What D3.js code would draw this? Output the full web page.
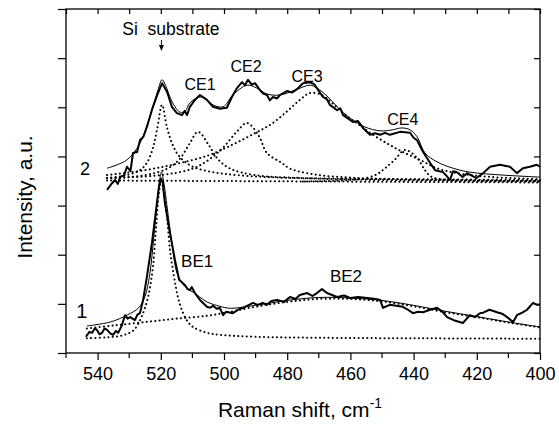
<!DOCTYPE html>
<html>
<head>
  <meta charset="utf-8">
  <title>Raman spectra</title>
  <script src="https://d3js.org/d3.v7.min.js"></script>
  <style>
    body { margin: 0; background: #fff; }
    text { font-family: "Liberation Sans", Arial, sans-serif; fill: #000; }
    .frame { fill: none; stroke: #000; stroke-width: 1.3px; }
    .expt { fill: none; stroke: #000; stroke-width: 2px; stroke-linejoin: round; }
    .fit { fill: none; stroke: #000; stroke-width: 1px; }
    .comp { fill: none; stroke: #000; stroke-width: 2px; stroke-dasharray: 0.1 4.2; stroke-linecap: round; }
  </style>
</head>
<body>
  <svg id="screen"></svg>

  <script>
    // ---- data: [Raman shift cm-1, intensity a.u.] ----

    // spectrum 2 (upper)
    const expt2 = [[537.0,3.32],[535.5,3.45],[534.5,3.52],[533.6,3.44],[532.9,3.58],[531.6,3.62],[530.7,3.79],
      [529.6,3.70],[528.8,4.07],[527.5,4.09],[526.6,4.33],[525.5,4.40],[524.4,4.60],[522.5,5.01],[520.9,5.29],
      [519.6,5.49],[518.0,5.31],[516.5,5.01],[514.9,4.88],[513.3,4.84],[512.4,4.93],[511.7,4.84],[510.8,5.01],
      [509.2,5.15],[507.6,5.25],[505.4,5.15],[503.5,5.01],[501.3,4.97],[499.1,4.99],[497.5,5.21],[495.9,5.39],
      [494.3,5.51],[493.4,5.45],[492.4,5.56],[491.2,5.46],[490.2,5.49],[488.6,5.35],[487.6,5.28],[486.4,5.25],
      [485.5,5.14],[484.5,5.21],[483.2,5.18],[482.3,5.25],[480.1,5.33],[478.4,5.30],[476.9,5.37],[475.0,5.49],
      [472.8,5.51],[471.5,5.47],[470.6,5.39],[468.7,5.21],[467.4,5.16],[466.5,5.05],[464.2,4.94],[463.2,4.98],
      [462.3,4.84],[459.2,4.70],[457.6,4.72],[456.0,4.58],[453.8,4.44],[452.2,4.47],[450.6,4.44],[449.0,4.48],
      [447.5,4.44],[444.3,4.50],[441.1,4.48],[440.0,4.38],[438.9,4.33],[437.0,4.09],[434.8,3.87],[433.2,3.72],
      [430.7,3.68],[429.5,3.60],[428.5,3.52],[427.5,3.70],[426.3,3.68],[424.5,3.58],[423.1,3.66],[420.1,3.56],
      [418.0,3.66],[415.8,3.79],[412.7,3.83],[409.5,3.79],[407.3,3.66],[405.4,3.76],[403.2,3.79],[401.0,3.83],
      [400.0,3.79]];

    const fit2 = [[537.0,3.76],[530.7,3.93],[526.6,4.27],[522.5,5.01],[520.9,5.35],[519.6,5.56],[518.4,5.43],
      [517.1,5.21],[515.5,5.01],[513.9,4.90],[512.3,4.92],[510.8,5.09],[507.6,5.21],[505.4,5.15],[503.5,5.05],
      [500.3,5.01],[497.2,5.25],[492.7,5.45],[489.6,5.39],[486.4,5.27],[482.3,5.25],[477.5,5.35],[472.8,5.45],
      [470.6,5.39],[467.4,5.23],[464.2,5.01],[460.1,4.78],[455.4,4.60],[450.6,4.52],[446.8,4.54],[443.7,4.58],
      [441.1,4.54],[438.9,4.40],[436.4,4.07],[432.6,3.89],[427.5,3.76],[422.2,3.68],[411.7,3.62],[400.0,3.58]];

    const base2 = [[537.0,3.51],[470.0,3.49],[400.0,3.47]];

    const si2 = [[537.0,3.56],[530.7,3.62],[526.6,3.72],[524.4,3.87],[522.5,4.17],[521.2,4.54],[519.6,5.05],
      [518.0,4.58],[516.2,4.23],[514.0,3.99],[509.9,3.79],[503.5,3.68],[495.9,3.62],[482.3,3.57],[466.5,3.55],
      [450.0,3.54],[400.0,3.52]];

    const ce1 = [[537.0,3.55],[525.0,3.62],[518.0,3.75],[514.0,3.95],[511.0,4.25],[508.2,4.50],[505.0,4.25],
      [502.0,3.95],[498.0,3.75],[490.0,3.62],[475.0,3.56],[450.0,3.52],[400.0,3.50]];

    const ce2 = [[537.0,3.56],[520.0,3.62],[510.0,3.75],[504.4,3.95],[500.0,4.20],[496.0,4.50],[492.7,4.68],
      [489.0,4.42],[486.4,4.07],[482.0,3.88],[479.0,3.75],[471.0,3.63],[460.0,3.57],[440.0,3.53],[400.0,3.50]];

    const ce3 = [[537.0,3.62],[525.0,3.72],[515.0,3.85],[505.0,4.02],[497.0,4.25],[490.0,4.48],[485.0,4.66],
      [480.0,4.92],[476.0,5.15],[472.8,5.29],[469.0,5.25],[466.0,5.10],[462.3,4.88],[458.0,4.68],[453.8,4.48],
      [448.0,4.25],[443.4,4.09],[438.0,3.93],[432.6,3.76],[426.3,3.66],[415.0,3.58],[400.0,3.54]];

    const ce4 = [[475.0,3.49],[460.0,3.52],[455.0,3.56],[451.5,3.64],[449.0,3.76],[446.0,3.93],[442.7,4.13],
      [438.9,3.97],[436.4,3.72],[434.2,3.58],[428.0,3.52],[415.0,3.50],[400.0,3.49]];

    // spectrum 1 (lower)
    const expt1 = [[543.7,0.33],[542.6,0.43],[541.8,0.41],[540.9,0.50],[540.2,0.47],[539.4,0.38],[538.6,0.41],
      [537.8,0.50],[537.0,0.47],[536.0,0.40],[535.1,0.37],[534.2,0.45],[533.5,0.41],[532.4,0.55],[531.3,0.77],
      [530.5,0.70],[529.7,0.73],[528.2,0.67],[527.4,0.78],[526.6,0.81],[525.6,1.08],[524.4,1.55],[522.8,2.24],
      [521.5,2.91],[520.6,3.38],[519.9,3.55],[519.4,3.47],[518.7,3.05],[517.1,2.44],[515.5,1.89],[514.2,1.49],
      [512.3,1.38],[511.5,1.30],[510.8,1.28],[510.2,1.34],[509.2,1.22],[507.6,1.08],[505.4,0.94],[504.4,0.92],
      [503.5,0.96],[502.3,0.90],[501.3,0.92],[500.3,0.77],[499.3,0.84],[497.2,0.81],[495.5,0.88],[494.0,0.92],
      [490.8,1.02],[489.4,0.98],[487.7,1.02],[486.4,0.98],[485.0,1.06],[483.2,1.08],[481.0,1.04],[479.1,1.14],
      [477.4,1.10],[476.0,1.18],[473.7,1.22],[472.0,1.16],[470.6,1.22],[469.0,1.30],[467.4,1.22],[465.8,1.18],
      [464.2,1.14],[462.0,1.17],[460.1,1.12],[457.5,1.14],[454.7,1.12],[452.0,1.10],[450.6,1.08],[449.7,0.92],
      [447.5,0.98],[445.5,0.96],[443.4,0.94],[441.8,0.88],[440.2,0.81],[438.6,0.84],[437.0,0.83],[434.8,0.88],
      [432.6,0.92],[431.0,0.85],[429.4,0.73],[427.0,0.66],[424.4,0.61],[422.2,0.77],[420.6,0.73],[419.0,0.81],
      [418.0,0.82],[416.0,0.88],[414.5,0.85],[413.6,0.83],[412.0,0.80],[410.4,0.73],[408.5,0.63],[407.3,0.77],
      [405.6,0.82],[404.1,0.88],[402.2,1.02],[401.0,0.98],[400.0,0.98]];

    const fit1 = [[543.4,0.55],[536.0,0.63],[530.7,0.77],[527.0,0.92],[525.0,1.15],[523.5,1.60],[522.3,2.30],
      [521.2,3.05],[520.3,3.55],[519.8,3.68],[519.0,3.45],[518.0,2.97],[516.5,2.24],[514.9,1.63],[513.0,1.40],
      [511.0,1.28],[509.8,1.24],[505.4,1.04],[501.3,0.95],[498.0,0.91],[490.0,0.97],[480.0,1.07],[470.0,1.13],
      [460.0,1.12],[450.0,1.07],[440.0,0.97],[430.0,0.85],[420.0,0.74],[410.0,0.63],[400.0,0.53]];

    const si1 = [[543.4,0.30],[537.0,0.32],[532.0,0.36],[528.5,0.47],[526.0,0.75],[524.0,1.15],[522.5,1.75],
      [521.5,2.55],[520.6,3.25],[519.9,3.50],[519.0,3.25],[518.0,2.75],[517.1,2.10],[515.8,1.55],[514.5,1.12],
      [513.0,0.82],[511.5,0.64],[509.8,0.53],[505.4,0.41],[501.3,0.37],[490.0,0.33],[470.0,0.31],[440.0,0.30],
      [400.0,0.29]];

    const be2 = [[543.4,0.50],[535.0,0.56],[525.0,0.63],[515.0,0.70],[505.0,0.76],[498.0,0.84],[490.0,0.94],
      [480.0,1.04],[470.0,1.10],[460.0,1.10],[450.0,1.05],[440.0,0.95],[430.0,0.83],[420.0,0.73],[410.0,0.62],
      [400.0,0.52]];

    // text labels: [text, Raman shift, intensity, font size]
    const peakLabels = [["CE1",507.6,5.35,16],["CE2",493.0,5.72,16],["CE3",473.7,5.51,16],["CE4",443.4,4.64,16],
      ["BE1",508.5,1.75,17],["BE2",461.4,1.44,17]];
    const curveLabels = [["2",544.0,3.62,18],["1",545.0,0.71,20]];

    const xTicks = [540, 520, 500, 480, 460, 440, 420, 400];
    const xMinor = d3.range(550, 399, -10);
    const yTicks = [0, 1, 2, 3, 4, 5, 6, 7];

    // ---- layout ----
    const W = 559, H = 424;
    const plot = {left: 66, right: 540, top: 9, bottom: 353};

    const svg = d3.select('#screen').attr('width', W).attr('height', H);

    const x = d3.scaleLinear().domain([550, 400]).range([plot.left, plot.right]);
    const y = d3.scaleLinear().domain([0, 7]).range([plot.bottom, plot.top]);

    const rough = d3.line().x(d => x(d[0])).y(d => y(d[1]));
    const smooth = d3.line().x(d => x(d[0])).y(d => y(d[1])).curve(d3.curveCatmullRom.alpha(0.5));

    const g = svg.append('g');

    // dotted components
    [base2, si2, ce1, ce2, ce3, ce4, si1, be2].forEach(c => {
      g.append('path').attr('class', 'comp').attr('d', smooth(c));
    });
    // fits
    [fit2, fit1].forEach(c => g.append('path').attr('class', 'fit').attr('d', smooth(c)));
    // measured spectra
    [expt2, expt1].forEach(c => g.append('path').attr('class', 'expt').attr('d', rough(c)));

    // axes
    const axB = svg.append('g').attr('transform', `translate(0,${plot.bottom})`)
      .call(d3.axisBottom(x).tickValues(xTicks).tickSize(7).tickPadding(7).tickFormat(d3.format('d')));
    axB.append('g').selectAll('line').data(xMinor.filter(v => !xTicks.includes(v))).join('line')
      .attr('x1', d => x(d)).attr('x2', d => x(d)).attr('y1', 0).attr('y2', 5);
    const axT = svg.append('g').attr('transform', `translate(0,${plot.top})`)
      .call(d3.axisTop(x).tickValues(xMinor).tickSize(-5).tickFormat(''));
    const axL = svg.append('g').attr('transform', `translate(${plot.left},0)`)
      .call(d3.axisLeft(y).tickValues(yTicks).tickSize(8).tickFormat(''));
    const axR = svg.append('g').attr('transform', `translate(${plot.right},0)`)
      .call(d3.axisRight(y).tickValues(yTicks).tickSize(-6).tickFormat(''));

    [axB, axT, axL, axR].forEach(a => {
      a.select('.domain').remove();
      a.selectAll('line').attr('stroke', '#000').attr('stroke-width', 1.2);
    });
    axB.selectAll('text').attr('font-size', 18).attr('font-family', '"Liberation Sans", Arial, sans-serif');

    svg.append('rect').attr('class', 'frame')
      .attr('x', plot.left).attr('y', plot.top)
      .attr('width', plot.right - plot.left).attr('height', plot.bottom - plot.top);

    // axis titles
    const xt = svg.append('text').attr('x', 300).attr('y', 417).attr('text-anchor', 'middle').attr('font-size', 21);
    xt.append('tspan').text('Raman shift, cm');
    xt.append('tspan').attr('dy', -9).attr('font-size', 14).text('-1');

    svg.append('text').attr('transform', 'translate(32,197) rotate(-90)')
      .attr('text-anchor', 'middle').attr('font-size', 21).text('Intensity, a.u.');

    // annotations
    svg.append('text').attr('x', x(516.8)).attr('y', 35).attr('text-anchor', 'middle')
      .attr('font-size', 17.5).attr('xml:space', 'preserve').style('white-space', 'pre').text('Si  substrate');
    svg.append('line').attr('x1', x(519.8)).attr('x2', x(519.8)).attr('y1', 40).attr('y2', 48)
      .attr('stroke', '#000').attr('stroke-width', 1);
    svg.append('path').attr('d', `M${x(519.8) - 2.5},45 L${x(519.8) + 2.5},45 L${x(519.8)},51 Z`).attr('fill', '#000');

    peakLabels.forEach(([t, px, py, fs]) => {
      svg.append('text').attr('x', x(px)).attr('y', y(py)).attr('text-anchor', 'middle')
        .attr('font-size', fs).text(t);
    });
    curveLabels.forEach(([t, px, py, fs]) => {
      svg.append('text').attr('x', x(px)).attr('y', y(py)).attr('text-anchor', 'middle')
        .attr('font-size', fs).text(t);
    });
  </script>
</body>
</html>
